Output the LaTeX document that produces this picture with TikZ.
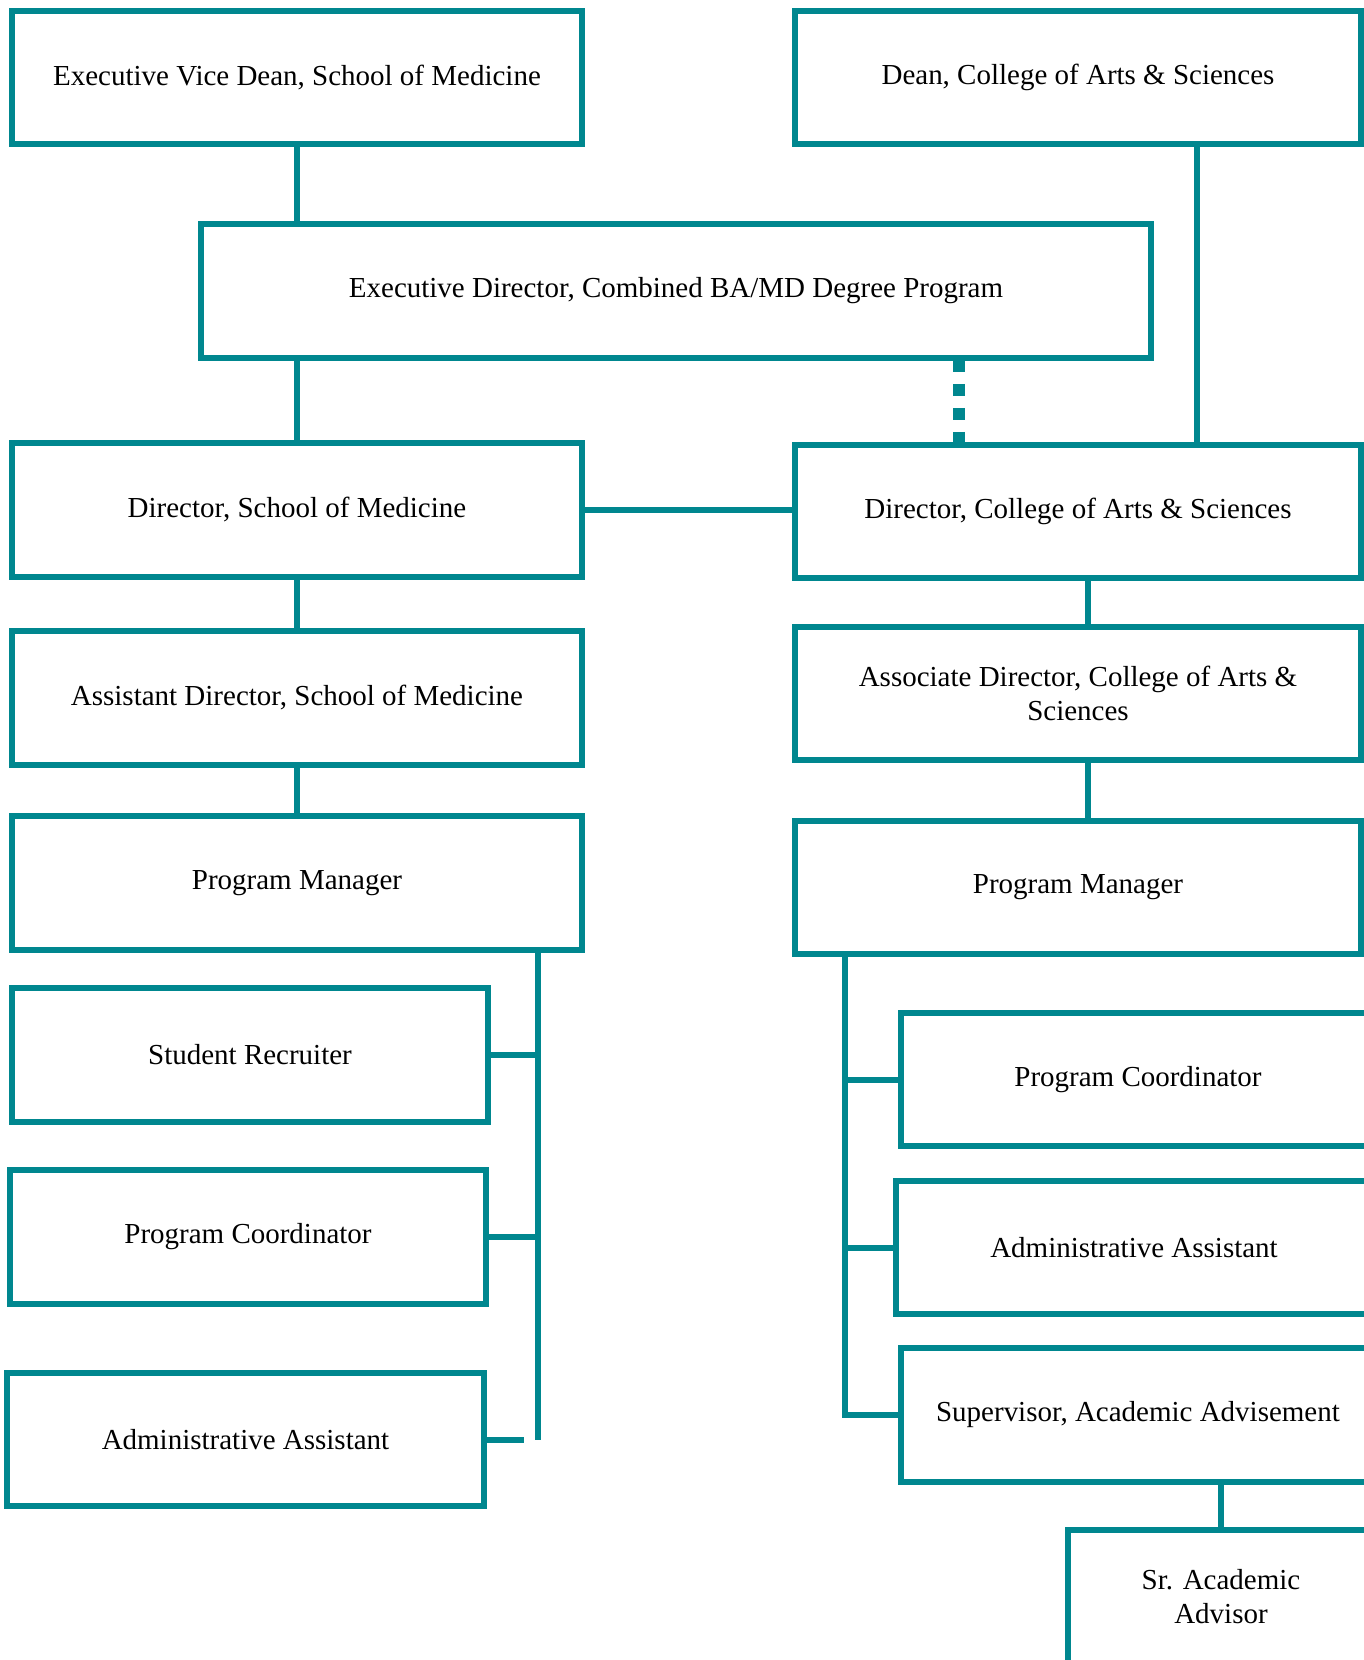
\documentclass[tikz,border=0pt]{standalone}
\usepackage{fontspec}
\setmainfont{Liberation Serif}
\usetikzlibrary{calc}
\definecolor{teal}{HTML}{00878F}

\begin{document}
\begin{tikzpicture}[x=0.02cm, y=-0.02cm,
		orgbox/.style={draw=teal,line width=0.12cm,rectangle,minimum width=11.4cm,minimum height=2.67cm,inner sep=0pt,align=center,font=\fontsize{16.5}{19.4}\selectfont},
		link/.style={draw=teal,line width=0.12cm},
		dotlink/.style={draw=teal,line width=0.24cm,dash pattern=on 0.25cm off 0.23cm}]
			\useasboundingbox (0,0) rectangle (1364,1660);

			\node[orgbox] (evd) at (297,77.5) {Executive Vice Dean, School of Medicine};
			\node[orgbox,minimum width=11.32cm] (dean) at (1078,77.5) {Dean, College of Arts \& Sciences};

			\node[orgbox,minimum width=19.0cm] (exd) at (676,291) {Executive Director, Combined BA/MD Degree Program};

			\node[orgbox] (dsom) at (297,510) {Director, School of Medicine};
			\node[orgbox,minimum width=11.32cm] (dcas) at (1078,511.5) {Director, College of Arts \& Sciences};

			\node[orgbox] (asom) at (297,698) {Assistant Director, School of Medicine};
			\node[orgbox,minimum width=11.32cm] (acas) at (1078,693.5) {Associate Director, College of Arts \&\\ Sciences};

			\node[orgbox] (pml) at (297,883) {Program Manager};
			\node[orgbox,minimum width=11.32cm] (pmr) at (1078,887.5) {Program Manager};

			\node[orgbox,minimum width=9.52cm] (sr) at (250,1055) {Student Recruiter};
			\node[orgbox,minimum width=9.52cm] (pcl) at (248,1237) {Program Coordinator};
			\node[orgbox,minimum width=9.54cm] (aal) at (245.5,1439.5) {Administrative Assistant};

			\node[orgbox,minimum width=9.48cm] (pcr) at (1138,1079.5) {Program Coordinator};
			\node[orgbox,minimum width=9.52cm] (aar) at (1134,1247.5) {Administrative Assistant};
			\node[orgbox,minimum width=9.48cm] (sup) at (1138,1415) {Supervisor, Academic Advisement};
			\node[orgbox,minimum width=6.12cm] (sra) at (1221,1597) {Sr. Academic\\ Advisor};

			% top levels
			\coordinate (deanlink) at ($(dean.south)+(119,0)$);
			\coordinate (exdlink) at ($(dcas.north)+(-119,-82)$);
			\draw[link] (evd.south) -- (evd.south |- exd.north);
			\draw[link] (deanlink) -- (deanlink |- dcas.north);
			\draw[link] (dsom.north |- exd.south) -- (dsom.north);
			\draw[dotlink] (exdlink) -- (exdlink |- dcas.north);
			\draw[link] (dsom.east) -- (dsom.east -| dcas.west);

			% school of medicine
			\draw[link] (dsom.south) -- (asom.north);
			\draw[link] (asom.south) -- (pml.north);
			\coordinate (lbus) at (538,950);
			\coordinate (lend) at (538,1440);
			\draw[link] (lbus) -- (lend);
			\draw[link] (sr.east) -- (sr.east -| lbus);
			\draw[link] (pcl.east) -- (pcl.east -| lbus);
			\draw[link,shorten >=8] (aal.east) -- (aal.east -| lbus);

			% arts and sciences
			\draw[link] ($(dcas.south)+(10,0)$) -- ($(acas.north)+(10,0)$);
			\draw[link] ($(acas.south)+(10,0)$) -- ($(pmr.north)+(10,0)$);
			\coordinate (rbus) at (845,954);
			\draw[link] (rbus) |- (sup.west);
			\draw[link] (pcr.west -| rbus) -- (pcr.west);
			\draw[link] (aar.west -| rbus) -- (aar.west);
			\draw[link] (sra.north |- sup.south) -- (sra.north);
		\end{tikzpicture}
\end{document}
